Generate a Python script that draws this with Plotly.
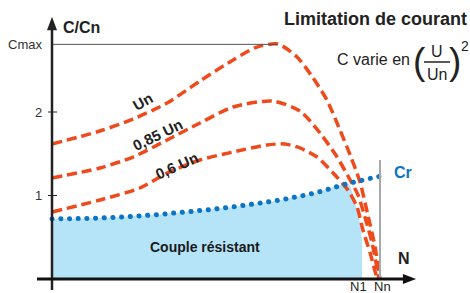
import plotly.graph_objects as go

# ---- data (x = N / Nn, y = C / Cn) ----
un_x = [0, 0.146, 0.247, 0.351, 0.451, 0.552, 0.625, 0.689, 0.747, 0.796, 0.838, 0.878, 0.909, 0.939, 0.963, 0.985, 1.0]
un_y = [1.617, 1.772, 1.916, 2.108, 2.371, 2.623, 2.778, 2.814, 2.659, 2.407, 2.144, 1.784, 1.485, 1.162, 0.766, 0.383, 0.0]

u85_x = [0, 0.146, 0.247, 0.351, 0.451, 0.552, 0.671, 0.756, 0.817, 0.869, 0.909, 0.933, 0.954, 0.976, 0.997]
u85_y = [1.210, 1.329, 1.461, 1.665, 1.868, 2.060, 2.132, 2.012, 1.749, 1.461, 1.186, 1.006, 0.743, 0.431, 0.0]

u60_x = [0, 0.146, 0.268, 0.351, 0.451, 0.552, 0.655, 0.710, 0.756, 0.808, 0.857, 0.902, 0.930, 0.948, 0.970, 0.991]
u60_y = [0.802, 0.946, 1.090, 1.269, 1.425, 1.521, 1.605, 1.617, 1.569, 1.461, 1.269, 1.066, 0.862, 0.587, 0.311, 0.0]

cr_x = [0, 0.1, 0.2, 0.3, 0.4, 0.5, 0.6, 0.7, 0.8, 0.9, 1.0]
cr_y = [0.72, 0.725, 0.74, 0.765, 0.80, 0.84, 0.89, 0.95, 1.03, 1.14, 1.23]

fill_edge_x = [0.909, 0.924, 0.939, 0.945, 0.945]
fill_edge_y = [1.114, 0.910, 0.671, 0.467, 0.0]

cmax = 2.81
n1 = 0.945
nn = 1.0
ytick_vals = [1, 2, cmax]
ytick_text = ["1", "2", "Cmax"]
curve_labels = ["Un", "0,85 Un", "0,6 Un"]

RED = "#EE4A1B"
BLUE = "#0B74C4"
FILLC = "#B5E3F8"
FONT = "Liberation Sans, Arial, sans-serif"

fig = go.Figure()

# resisting torque area
fig.add_trace(go.Scatter(
    x=cr_x[:-1] + fill_edge_x, y=cr_y[:-1] + fill_edge_y,
    mode="lines", line=dict(width=0, color=FILLC, shape="spline", smoothing=0.6),
    fill="tozeroy", fillcolor=FILLC, hoverinfo="skip", showlegend=False))

for xs, ys in [(un_x, un_y), (u85_x, u85_y), (u60_x, u60_y)]:
    fig.add_trace(go.Scatter(x=xs, y=ys, mode="lines",
                             line=dict(color=RED, width=3.5, dash="10px,5px",
                                       shape="spline", smoothing=0.7),
                             showlegend=False))

fig.add_trace(go.Scatter(x=cr_x, y=cr_y, mode="lines",
                         line=dict(color=BLUE, width=5, dash="4px,4.7px", shape="spline"),
                         showlegend=False))

# pixel helpers for axis decorations (data units)
px_x = 1 / 328.0
px_y = 1 / 83.5

shapes = [
    dict(type="line", x0=0, x1=0.689, y0=cmax, y1=cmax, line=dict(color="#555", width=1)),
    dict(type="line", x0=nn, x1=nn, y0=0, y1=1.425, line=dict(color="#A8A8A8", width=2)),
    dict(type="line", x0=0, x1=0, y0=-11 * px_y, y1=2.99, line=dict(color="#222", width=2.5)),
    dict(type="path", path=f"M {-5*px_x} 2.98 L {5*px_x} 2.98 L 0 3.14 Z",
         fillcolor="#222", line=dict(width=0)),
    dict(type="line", x0=-15 * px_x, x1=1.075, y0=0, y1=0, line=dict(color="#111", width=3)),
    dict(type="path", path=f"M 1.07 {-5*px_y} L 1.07 {5*px_y} L 1.11 0 Z",
         fillcolor="#111", line=dict(width=0)),
]
for v in [1, 2]:
    shapes.append(dict(type="line", x0=-4 * px_x, x1=5 * px_x, y0=v, y1=v,
                       line=dict(color="#222", width=1)))

ann = []
for v, t in zip(ytick_vals, ytick_text):
    ann.append(dict(x=0, y=v, text=t, showarrow=False, xanchor="right", xshift=-8,
                    font=dict(size=13, color="#333", family=FONT)))
ann += [
    dict(x=0, y=3.018, text="<b>C/Cn</b>", showarrow=False, xanchor="left", xshift=9,
         font=dict(size=16, color="#222", family=FONT)),
    dict(x=1.073, y=0.24, text="<b>N</b>", showarrow=False,
         font=dict(size=16, color="#222", family=FONT)),
    dict(x=nn, y=1.28, text="<b>Cr</b>", showarrow=False, xanchor="left", xshift=12,
         font=dict(size=16, color=BLUE, family=FONT)),
    dict(x=n1, y=-0.09, text="N1", showarrow=False, xshift=-3,
         font=dict(size=13, color="#222", family=FONT)),
    dict(x=nn, y=-0.09, text="Nn", showarrow=False, xshift=2,
         font=dict(size=13, color="#222", family=FONT)),
    dict(x=0.466, y=0.383, text="<b>Couple résistant</b>", showarrow=False,
         font=dict(size=14, color="#1a1a1a", family=FONT)),
    dict(x=0.277, y=2.108, text="<b>" + curve_labels[0] + "</b>", showarrow=False, textangle=-30,
         yshift=1, font=dict(size=15, color="#222", family=FONT)),
    dict(x=0.323, y=1.725, text="<b>" + curve_labels[1] + "</b>", showarrow=False, textangle=-26,
         yshift=0, font=dict(size=15, color="#222", family=FONT)),
    dict(x=0.381, y=1.365, text="<b>" + curve_labels[2] + "</b>", showarrow=False, textangle=-24,
         yshift=0, font=dict(size=15, color="#222", family=FONT)),
]

W, H = 470, 293
def pp(x, y):
    return x / W, 1 - y / H

def pann(x, y, text, size, **kw):
    xx, yy = pp(x, y)
    d = dict(xref="paper", yref="paper", x=xx, y=yy, text=text, showarrow=False,
             xanchor="center", yanchor="middle",
             font=dict(size=size, color="#222", family=FONT))
    d.update(kw)
    return d

ann += [
    pann(469, 19, "<b>Limitation de courant</b>", 18, xanchor="right"),
    pann(412, 60, "C varie en", 16, xanchor="right"),
    pann(419, 61, "(", 37),
    pann(455, 61, ")", 37),
    pann(437, 52, "U", 16),
    pann(437, 74, "Un", 16),
    pann(465, 46, "2", 14),
]
bx0, by = pp(424, 62)
bx1, _ = pp(450, 62)
shapes.append(dict(type="line", xref="paper", yref="paper", x0=bx0, x1=bx1, y0=by, y1=by,
                   line=dict(color="#222", width=1.5)))

fig.update_layout(
    width=W, height=H, margin=dict(l=0, r=0, t=0, b=0),
    paper_bgcolor="white", plot_bgcolor="white",
    xaxis=dict(range=[-52 / 328, 418 / 328], visible=False, fixedrange=True),
    yaxis=dict(range=[-14 / 83.5, 279 / 83.5], visible=False, fixedrange=True),
    shapes=shapes, annotations=ann, showlegend=False,
)

post = """
document.body.style.margin = '0px';
document.body.style.padding = '0px';
var gd = document.getElementById('{plot_id}');
function roundDots() {
  var tr = gd.querySelectorAll('.scatterlayer .trace');
  var t = tr[tr.length - 1];
  if (t) {
    var p = t.querySelector('path.js-line');
    if (p) { p.style.strokeLinecap = 'round'; p.style.strokeDasharray = '0.1px,8.6px'; }
  }
}
roundDots();
setTimeout(roundDots, 30);
"""

fig.write_html("out.html", post_script=post, config={"displayModeBar": False})
